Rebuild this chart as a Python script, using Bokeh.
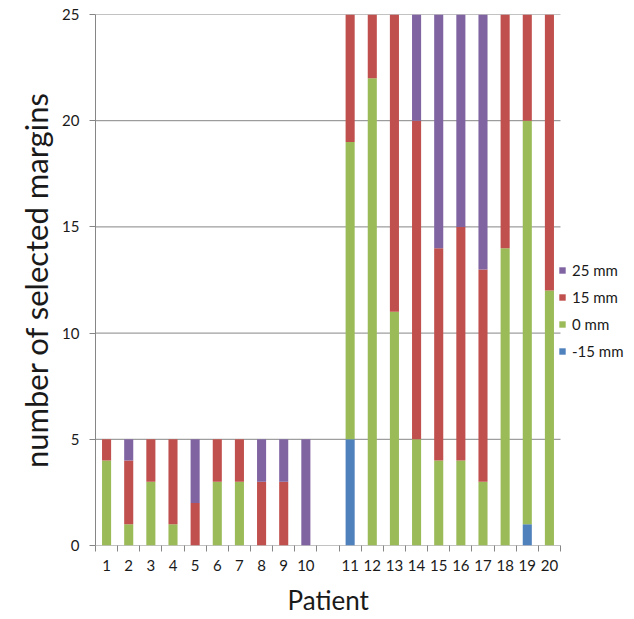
from bokeh.plotting import figure
from bokeh.models import ColumnDataSource, FixedTicker, Legend, LegendItem, Range1d, Title
from bokeh.embed import file_html
from bokeh.resources import INLINE

patients = ["1", "2", "3", "4", "5", "6", "7", "8", "9", "10",
            "11", "12", "13", "14", "15", "16", "17", "18", "19", "20"]
m_neg15 = [0, 0, 0, 0, 0, 0, 0, 0, 0, 0, 5, 0, 0, 0, 0, 0, 0, 0, 1, 0]
m_0 = [4, 1, 3, 1, 0, 3, 3, 0, 0, 0, 14, 22, 11, 5, 4, 4, 3, 14, 19, 12]
m_15 = [1, 3, 2, 4, 2, 2, 2, 3, 3, 0, 6, 3, 14, 15, 10, 11, 10, 11, 5, 13]
m_25 = [0, 1, 0, 0, 3, 0, 0, 2, 2, 5, 0, 0, 0, 5, 11, 10, 12, 0, 0, 0]
series = ["-15 mm", "0 mm", "15 mm", "25 mm"]
colors = ["#4F81BD", "#9BBB59", "#C0504D", "#8064A2"]
y_ticks = [0, 5, 10, 15, 20, 25]

# Excel leaves one empty category between patient 10 and 11
xpos = [i + 1 if i < 10 else i + 2 for i in range(len(patients))]
n_slots = 21

source = ColumnDataSource(dict(x=xpos, **{"-15 mm": m_neg15, "0 mm": m_0,
                                          "15 mm": m_15, "25 mm": m_25}))

FONT = "Lato"
GRAY = "#868686"
W, H = 630, 615
PLOT_L, PLOT_R = 95, 560          # visible category area (px)
slot_px = (PLOT_R - PLOT_L) / n_slots
x_end = 0.5 + (W - PLOT_L) / slot_px   # frame extends to the right for the legend

p = figure(width=W, height=H, output_backend="svg", toolbar_location=None,
           x_range=Range1d(0.5, x_end), y_range=Range1d(0, 25),
           min_border_left=PLOT_L, min_border_right=0, min_border_top=14,
           min_border_bottom=H - 545)
p.outline_line_color = None
p.background_fill_color = "white"
p.border_fill_color = "white"

# horizontal gridlines (and x axis line) only across the category area
p.segment(x0=0.5, x1=n_slots + 0.5, y0=y_ticks, y1=y_ticks,
          line_color=GRAY, line_width=1)

rs = p.vbar_stack(series, x="x", width=0.41, source=source, color=colors,
                  line_color=None)

# x axis: labels at bar centres, tick marks at category boundaries
p.xaxis.ticker = FixedTicker(ticks=xpos,
                             minor_ticks=[i + 0.5 for i in range(n_slots + 1)])
p.xaxis.major_label_overrides = {x: lab for x, lab in zip(xpos, patients)}
p.xaxis.major_tick_line_color = None
p.xaxis.major_tick_out = 6
p.xaxis.major_tick_in = 0
p.xaxis.minor_tick_out = 6
p.xaxis.minor_tick_in = 0
p.xaxis.minor_tick_line_color = GRAY
p.xaxis.axis_line_color = None
p.xaxis.major_label_standoff = 8

p.yaxis.ticker = FixedTicker(ticks=y_ticks)
p.yaxis.minor_tick_line_color = None
p.yaxis.major_tick_out = 6
p.yaxis.major_tick_in = 0
p.yaxis.major_tick_line_color = GRAY
p.yaxis.axis_line_color = GRAY
p.yaxis.major_label_standoff = 10
p.yaxis.axis_label = "number of selected margins"
p.yaxis.axis_label_standoff = 4
p.yaxis.axis_label_text_font_size = "31px"

for ax in (p.xaxis, p.yaxis):
    ax.major_label_text_font = FONT
    ax.major_label_text_font_size = "15px"
    ax.major_label_text_color = "#1a1a1a"
    ax.axis_label_text_font = FONT
    ax.axis_label_text_font_style = "normal"
    ax.axis_label_text_color = "#1a1a1a"

p.xgrid.grid_line_color = None
p.ygrid.grid_line_color = None

# small empty spacer, then the x axis title centred under the category area
spacer = Title(text=" ", text_font_size="5px", standoff=0)
p.add_layout(spacer, "below")
xtitle = Title(text="Patient", align="left", offset=192, standoff=0,
               text_font=FONT, text_font_size="26px", text_font_style="normal",
               text_color="#1a1a1a")
p.add_layout(xtitle, "below")

items = [LegendItem(label=s, renderers=[r]) for s, r in zip(series, rs)][::-1]
legend = Legend(items=items, location=(PLOT_R - PLOT_L - 2, 184), padding=0,
                margin=0, border_line_color=None, background_fill_alpha=0,
                glyph_width=8, glyph_height=8, label_height=20, spacing=7,
                label_standoff=6, label_text_font=FONT,
                label_text_font_size="15px", label_text_color="#1a1a1a")
p.add_layout(legend, "center")

open("out.html", "w").write(file_html(p, INLINE))
